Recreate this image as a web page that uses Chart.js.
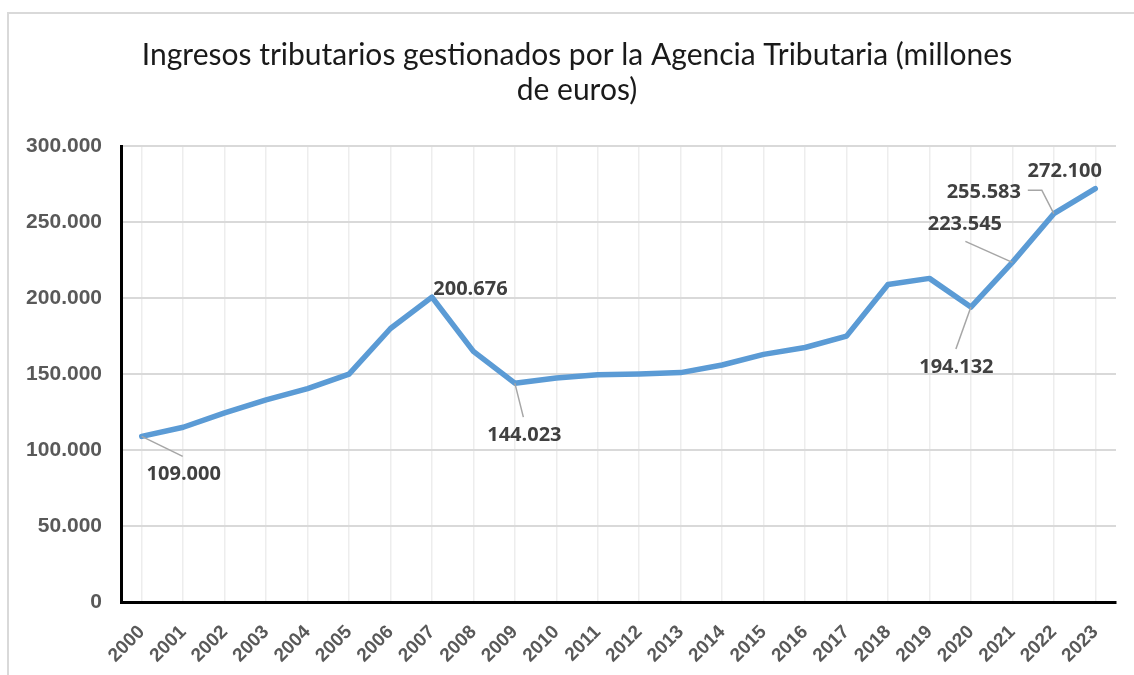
<!DOCTYPE html>
<html lang="es">
<head>
    <meta charset="UTF-8">
    <title>Ingresos tributarios gestionados por la Agencia Tributaria</title>
    <script src="https://cdn.jsdelivr.net/npm/chart.js"></script>
    <style>
        body {
            margin: 0;
            background-color: #ffffff;
            overflow: hidden
        }
        .marco {
            position: absolute;
            left: 7px;
            top: 12px;
            width: 1200px;
            height: 700px;
            border: 2px solid #d9d9d9
        }
        .grafico {
            position: absolute;
            left: 0;
            top: 0;
            width: 1134px;
            height: 675px
        }
    </style>
</head>
<body>
    <div class="marco"></div>
    <div class="grafico"><canvas id="chart"></canvas></div>

    <script>
        // datos (millones de euros)
        const years = ['2000','2001','2002','2003','2004','2005','2006','2007','2008','2009','2010','2011',
                       '2012','2013','2014','2015','2016','2017','2018','2019','2020','2021','2022','2023']
        const ingresos = [109000, 115000, 124500, 133000, 140500, 150000, 180000, 200676, 165000, 144023, 147500, 149500,
                          150000, 151000, 156000, 163000, 167500, 175000, 209000, 213000, 194132, 223545, 255583, 272100]
        const yTicks = [0, 50000, 100000, 150000, 200000, 250000, 300000]
        // indices de los puntos con etiqueta
        const etiquetados = [0, 7, 9, 20, 21, 22, 23]

        // donde va cada etiqueta respecto a su punto (px) y su linea guia
        const posEtiqueta = {
            0:  {dx: 42,    dy: 37.5,  guia: [[41, 20]]},
            7:  {dx: 38.5,  dy: -7.5,  guia: null},
            9:  {dx: 9.5,   dy: 52.5,  guia: [[8.5, 34]]},
            20: {dx: -14.5, dy: 60.5,  guia: [[-15, 42]]},
            21: {dx: -47.5, dy: -38,   guia: [[-47, -21]]},
            22: {dx: -70,   dy: -21.5, guia: [[-12, -23.5], [-26, -23.5]]},
            23: {dx: -30.5, dy: -17.5, guia: null}
        }

        function miles(v) {
            return String(v).replace(/\B(?=(\d{3})+(?!\d))/g, '.')
        }

        const etiquetasPlugin = {
            id: 'etiquetas',
            afterLayout(chart) {
                // el titulo va centrado un poco a la derecha, como en el original
                chart.titleBlock.left = 40
                chart.titleBlock.right = 1114
            },
            afterDatasetsDraw(chart) {
                let ctx = chart.ctx
                let meta = chart.getDatasetMeta(0)
                ctx.save()
                for (let i of etiquetados) {
                    let p = meta.data[i]
                    let pos = posEtiqueta[i]
                    if (pos.guia) {
                        ctx.beginPath()
                        ctx.strokeStyle = '#a6a6a6'
                        ctx.lineWidth = 1.5
                        ctx.moveTo(p.x, p.y)
                        for (let g of pos.guia) ctx.lineTo(p.x + g[0], p.y + g[1])
                        ctx.stroke()
                    }
                    ctx.font = 'bold 20px "Open Sans"'
                    ctx.fillStyle = '#404040'
                    ctx.textAlign = 'center'
                    ctx.textBaseline = 'middle'
                    ctx.fillText(miles(ingresos[i]), p.x + pos.dx, p.y + pos.dy)
                }
                ctx.restore()
            }
        }

        let ctx = document.getElementById('chart').getContext('2d')
        new Chart(ctx, {
            type: 'line',
            data: {
                labels: years,
                datasets: [{
                    label: 'Ingresos',
                    data: ingresos,
                    borderColor: '#5b9bd5',
                    borderWidth: 5.5,
                    borderJoinStyle: 'round',
                    borderCapStyle: 'round',
                    pointRadius: 0,
                    tension: 0,
                    fill: false
                }]
            },
            options: {
                responsive: true,
                maintainAspectRatio: false,
                animation: false,
                layout: {padding: {left: 10, right: 18, top: 0, bottom: 0}},
                plugins: {
                    legend: {display: false},
                    tooltip: {enabled: false},
                    title: {
                        display: true,
                        text: ['Ingresos tributarios gestionados por la Agencia Tributaria (millones', 'de euros)'],
                        color: '#1a1a1a',
                        font: {family: 'Lato, sans-serif', size: 30, weight: 'normal', lineHeight: 1.17},
                        padding: {top: 38, bottom: 38}
                    }
                },
                scales: {
                    x: {
                        offset: true,
                        grid: {color: '#ededed', lineWidth: 1.5, drawTicks: false, offset: false},
                        border: {color: '#000000', width: 3},
                        ticks: {
                            color: '#595959',
                            font: {family: 'Liberation Sans, Arial, sans-serif', size: 19, weight: 'bold'},
                            minRotation: 45,
                            maxRotation: 45,
                            autoSkip: false,
                            padding: 19
                        },
                        afterFit(scale) { scale.height = 73 }
                    },
                    y: {
                        min: 0,
                        max: 300000,
                        grid: {color: '#d9d9d9', lineWidth: 2, drawTicks: false},
                        border: {color: '#000000', width: 3},
                        afterBuildTicks(scale) { scale.ticks = yTicks.map(v => ({value: v})) },
                        ticks: {
                            color: '#595959',
                            font: {family: 'Liberation Sans, Arial, sans-serif', size: 21, weight: 'bold'},
                            padding: 19,
                            callback: v => miles(v)
                        },
                        afterFit(scale) { scale.width = 111 }
                    }
                }
            },
            plugins: [etiquetasPlugin]
        })
    </script>
</body>
</html>
